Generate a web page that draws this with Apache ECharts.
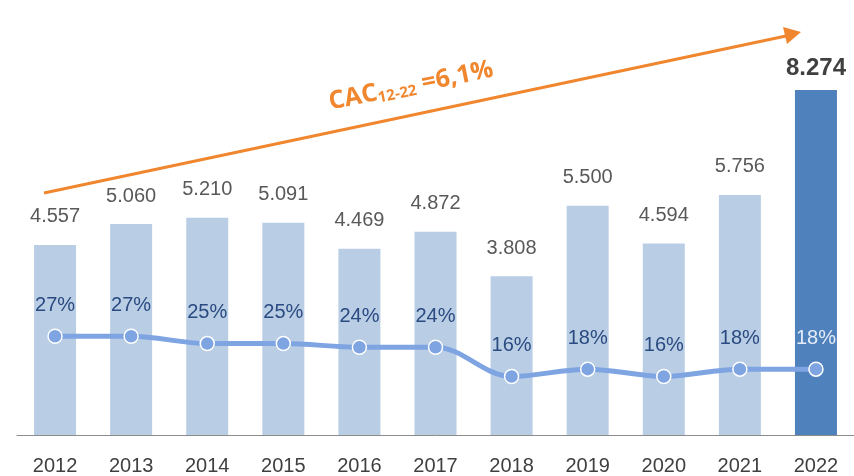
<!DOCTYPE html>
<html>
<head>
<meta charset="utf-8">
<script src="https://cdn.jsdelivr.net/npm/echarts@6/dist/echarts.min.js"></script>
<style>
  html, body { margin: 0; padding: 0; background: #fff; }
  #chart { width: 854px; height: 476px; }
</style>
</head>
<body>
<div id="chart"></div>
<script>
const years = ['2012', '2013', '2014', '2015', '2016', '2017', '2018', '2019', '2020', '2021', '2022'];
const totals = [4557, 5060, 5210, 5091, 4469, 4872, 3808, 5500, 4594, 5756, 8274];
const shares = [27, 27, 25, 25, 24, 24, 16, 18, 16, 18, 18];

const FONT = '"Liberation Sans Narrow", "Liberation Sans", sans-serif';
const fmt = v => String(v).replace(/\B(?=(\d{3})+(?!\d))/g, '.');

const chart = echarts.init(document.getElementById('chart'));

const option = {
  animation: false,
  grid: { left: 17, width: 842, top: 18, bottom: 41 },
  xAxis: {
    type: 'category',
    data: years,
    axisLine: { lineStyle: { color: '#8c8c8c', width: 1 } },
    axisTick: { length: 8, lineStyle: { color: '#8c8c8c' } },
    axisLabel: { color: '#404040', fontSize: 20, fontFamily: FONT, margin: 21 }
  },
  yAxis: [
    { type: 'value', min: 0, max: 10000, show: false, splitLine: { show: false } },
    { type: 'value', min: 0, max: 114, show: false, splitLine: { show: false } }
  ],
  series: [
    {
      type: 'bar',
      barWidth: 42,
      data: totals.map((v, i) => ({
        value: v,
        itemStyle: { color: i === totals.length - 1 ? '#4f81bd' : '#b9cde5' },
        label: i === totals.length - 1
          ? { distance: 10, color: '#404040', fontWeight: 'bold', fontSize: 24 }
          : {}
      })),
      label: {
        show: true,
        position: 'top',
        distance: 18,
        color: '#595959',
        fontSize: 20,
        fontFamily: FONT,
        formatter: p => fmt(p.value)
      }
    },
    {
      type: 'line',
      yAxisIndex: 1,
      smooth: 0.35,
      symbol: 'circle',
      symbolSize: 14,
      data: shares.map((v, i) => ({
        value: v,
        label: i === shares.length - 1 ? { color: '#e4ecf7' } : {}
      })),
      lineStyle: { color: '#7ea4e2', width: 5 },
      itemStyle: { color: '#7ea4e2', borderColor: '#ffffff', borderWidth: 1.5 },
      label: {
        show: true,
        position: 'top',
        distance: 13,
        color: '#2a4a80',
        fontSize: 20,
        fontFamily: FONT,
        formatter: p => p.value + '%'
      }
    }
  ],
  graphic: [
    {
      type: 'line',
      shape: { x1: 44, y1: 193, x2: 786, y2: 36 },
      style: { stroke: '#f0862e', lineWidth: 3 }
    },
    {
      type: 'polygon',
      shape: { points: [[801, 32], [783, 27], [787, 44]] },
      style: { fill: '#f0862e' }
    },
    {
      type: 'text',
      x: 411,
      y: 86,
      rotation: 0.2,
      style: {
        text: '{a|CAC}{b|12-22}{a| =6,1%}',
        align: 'center',
        verticalAlign: 'middle',
        rich: {
          a: { fontSize: 25, fontWeight: 'bold', fill: '#f0862e', fontFamily: '"Open Sans", sans-serif' },
          b: { fontSize: 15, fontWeight: 'bold', fill: '#f0862e', fontFamily: '"Open Sans", sans-serif', padding: [11, 0, 0, 0] }
        }
      }
    }
  ]
};

chart.setOption(option);
</script>
</body>
</html>
